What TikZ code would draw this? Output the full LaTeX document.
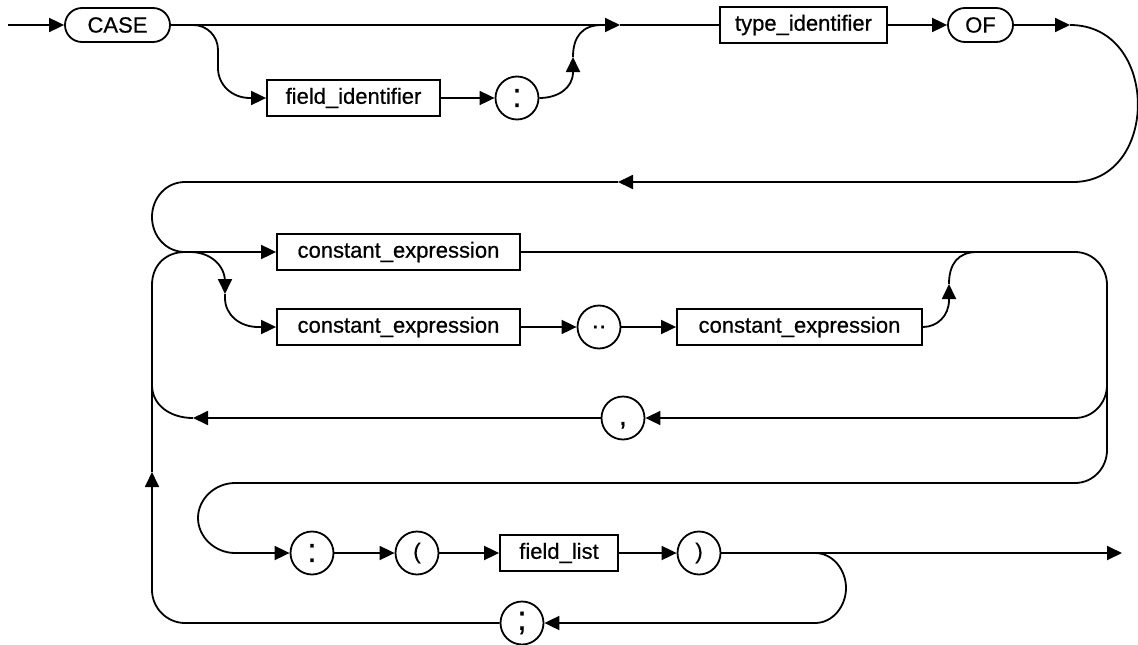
\documentclass[tikz,border=0pt]{standalone}
\usepackage{fontspec}
\setmainfont{Liberation Sans}[FakeBold=0.6]
\usetikzlibrary{arrows.meta,shapes.misc}
\begin{document}
\begin{tikzpicture}[x=1pt,y=-1pt,
  line width=1.8pt,
  font=\fontsize{22}{26}\selectfont,
  tip/.style={-{Triangle[length=15pt,width=14pt]}},
  term/.style={draw, rounded rectangle, minimum height=34pt, inner sep=0pt},
  nterm/.style={draw, rectangle, minimum height=36pt, inner sep=0pt},
  sym/.style={draw, circle, minimum size=43pt, inner sep=0pt},
  bigsym/.style={sym, font=\fontsize{34}{34}\selectfont}]
\useasboundingbox (0,0) rectangle (1138,645);

% nodes
\node[term, minimum width=105pt] (case) at (117.5,25) {CASE};
\node[nterm, minimum width=173pt] (fid) at (353.5,98) {field\_identifier};
\node[bigsym] (col1) at (517,98) {:};
\node[nterm, minimum width=167pt] (tid) at (803.5,25) {type\_identifier};
\node[term, minimum width=65pt] (of) at (980.5,25) {OF};
\node[nterm, minimum width=243pt] (ce1) at (398.5,252) {constant\_expression};
\node[nterm, minimum width=243pt] (ce2) at (398.5,327) {constant\_expression};
\node[sym, font=\fontsize{26}{26}\selectfont] (dd) at (599,327) {..};
\node[nterm, minimum width=245pt] (ce3) at (799.5,327) {constant\_expression};
\node[sym, font=\fontsize{28}{28}\selectfont] (comma) at (623,418) {\raisebox{-7pt}[0pt][0pt]{,}};
\node[bigsym] (col2) at (312,553) {:};
\node[sym] (lp) at (417,553) {(};
\node[nterm, minimum width=118pt] (fl) at (559,553) {field\_list};
\node[sym] (rp) at (699,553) {)};
\node[bigsym] (semi) at (522,623) {;};

% named points
\coordinate (start) at (8,25);
\coordinate (a1) at (620,25);
\coordinate (b1) at (193,25);
\coordinate (a2) at (573,57);
\coordinate (a3) at (1070,25);
\coordinate (a4) at (618,182);
\coordinate (j1) at (185,252);
\coordinate (a5) at (225,294);
\coordinate (a6) at (949,284);
\coordinate (a7) at (193,418);
\coordinate (a8) at (152,472);
\coordinate (endp) at (1122,553);
\coordinate (rv1) at (1107,385);

% top row
\draw[tip] (start) -- (case.west);
\draw[tip] (case.east) -- (a1);
\draw (a1) -- (tid.west);
\draw[tip] (b1) .. controls (207,25) and (218,36) .. (218,50) -- (218,68) .. controls (218,85) and (232,98) .. (250,98) -- (fid.west);
\draw[tip] (fid.east) -- (col1.west);
\draw[tip] (col1.east) .. controls (558,98) and (573,88) .. (573,72) -- (a2);
\draw (a2) .. controls (573,37) and (582,25) .. (602,25);
\draw[tip] (tid.east) -- (of.west);
\draw[tip] (of.east) -- (a3);
\draw[tip] (a3) .. controls (1160,25) and (1160,182) .. (1073,182) -- (a4);
\draw (a4) -- (185,182) .. controls (166,182) and (152,198) .. (152,217) .. controls (152,236) and (166,252) .. (j1);

% constants
\draw[tip] (j1) -- (ce1.west);
\draw[tip] (190,252) .. controls (210,252) and (225,265) .. (225,282) -- (a5);
\draw[tip] (a5) -- (225,298) .. controls (225,315) and (240,327) .. (258,327) -- (ce2.west);
\draw[tip] (ce2.east) -- (dd.west);
\draw[tip] (dd.east) -- (ce3.west);
\draw[tip] (ce3.east) .. controls (937,327) and (949,316) .. (949,300) -- (a6);
\draw (a6) .. controls (949,264) and (958,252) .. (977,252);
\draw[tip] (ce1.east) -- (1075,252) .. controls (1093,252) and (1107,267) .. (1107,285) -- (1107,450) .. controls (1107,468) and (1093,483) .. (1075,483) -- (235,483) .. controls (215,483) and (198,499) .. (198,518) .. controls (198,537) and (215,553) .. (235,553) -- (col2.west);

% comma return
\draw[tip] (rv1) .. controls (1107,403) and (1093,418) .. (1075,418) -- (comma.east);
\draw[tip] (comma.west) -- (a7);
\draw (a7) .. controls (170,418) and (152,405) .. (152,385);

% bottom row
\draw[tip] (col2.east) -- (lp.west);
\draw[tip] (lp.east) -- (fl.west);
\draw[tip] (fl.east) -- (rp.west);
\draw[tip] (rp.east) -- (endp);
\draw[tip] (815,553) .. controls (833,553) and (846,570) .. (846,588) .. controls (846,606) and (833,623) .. (815,623) -- (semi.east);
\draw[tip] (semi.west) -- (185,623) .. controls (167,623) and (152,608) .. (152,590) -- (a8);
\draw (a8) -- (152,285) .. controls (152,265) and (166,252) .. (j1);
\end{tikzpicture}
\end{document}
